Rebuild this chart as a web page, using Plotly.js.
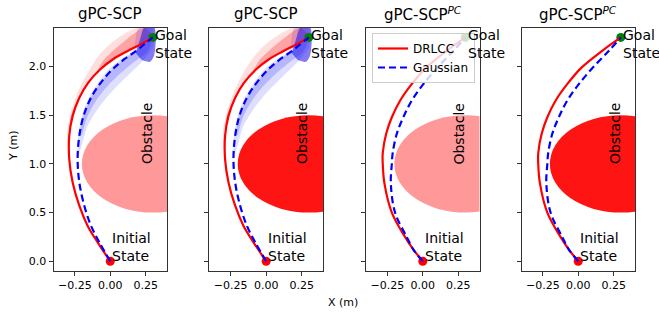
<!DOCTYPE html>
<html>
<head>
<meta charset="utf-8">
<script src="https://cdn.plot.ly/plotly-3.0.1.min.js"></script>
<style>html,body{margin:0;padding:0;background:#fff;}#chart{width:659px;height:312px;}</style>
</head>
<body>
<div id="chart"></div>
<script>
// ---------- data ----------
const panelTitles = ["gPC-SCP", "gPC-SCP", "gPC-SCP<sup><i>PC</i></sup>", "gPC-SCP<sup><i>PC</i></sup>"];
const seriesNames = ["DRLCC", "Gaussian"];
const xTickVals = [-0.25, 0.0, 0.25];
const yTickVals = [0.0, 0.5, 1.0, 1.5, 2.0];

// gPC-SCP mean trajectories (panels 1, 2)
const scpY      = [0, 0.195, 0.366, 0.571, 0.81, 1.05, 1.29, 1.494, 1.68, 1.836, 1.973, 2.076, 2.16, 2.23, 2.3];
const scpRedX   = [0, -0.089, -0.16, -0.218, -0.265, -0.289, -0.289, -0.265, -0.218, -0.155, -0.07, 0.02, 0.122, 0.216, 0.3];
const scpBlueX  = [0, -0.077, -0.136, -0.183, -0.218, -0.23, -0.218, -0.188, -0.136, -0.066, 0.016, 0.099, 0.181, 0.24, 0.3];

// gPC-SCP^PC mean trajectories (panels 3, 4)
const pcY       = [0, 0.12, 0.25, 0.5, 0.8, 1.0, 1.11, 1.31, 1.48, 1.65, 1.82, 1.99, 2.163, 2.3];
const pcRedX    = [0, -0.066, -0.125, -0.218, -0.27, -0.282, -0.282, -0.258, -0.218, -0.16, -0.078, 0.023, 0.169, 0.3];
const pcBlueX   = [0, -0.066, -0.113, -0.195, -0.225, -0.218, -0.212, -0.183, -0.137, -0.078, 0.004, 0.103, 0.216, 0.3];

// sampled-trajectory spread (panels 1, 2): faint outer envelopes and denser inner envelopes
const redOuterX = [-0.289, -0.305, -0.284, -0.23, -0.171, -0.10, -0.019, 0.075, 0.19, 0.29, 0.3, 0.216, 0.122, 0.02, -0.07, -0.155, -0.218, -0.265, -0.289];
const redOuterY = [1.05, 1.29, 1.494, 1.733, 1.905, 2.076, 2.21, 2.315, 2.40, 2.40, 2.3, 2.23, 2.16, 2.076, 1.973, 1.836, 1.68, 1.494, 1.29];
const redInnerX = [-0.289, -0.277, -0.195, -0.113, -0.042, 0.146, 0.24, 0.3, 0.216, 0.122, 0.02, -0.07, -0.155, -0.218, -0.265];
const redInnerY = [1.29, 1.494, 1.733, 1.905, 2.076, 2.315, 2.40, 2.3, 2.23, 2.16, 2.076, 1.973, 1.836, 1.68, 1.494];
const blueBandX = [-0.23, -0.225, -0.2, -0.15, -0.085, -0.01, 0.075, 0.16, 0.2, 0.31, 0.31, 0.305, 0.24, 0.122, 0.005, -0.089, -0.16, -0.195];
const blueBandY = [1.05, 1.29, 1.494, 1.68, 1.836, 1.973, 2.076, 2.16, 2.40, 2.40, 2.315, 2.21, 2.076, 1.905, 1.733, 1.562, 1.39, 1.22];
const blueInnerX = [-0.218, -0.188, -0.136, -0.066, 0.016, 0.099, 0.181, 0.24, 0.3, 0.26, 0.17, 0.07, -0.02, -0.1, -0.16, -0.2];
const blueInnerY = [1.29, 1.494, 1.68, 1.836, 1.973, 2.076, 2.16, 2.23, 2.3, 2.15, 2.05, 1.93, 1.8, 1.65, 1.49, 1.3];
const blueCoreX = [0.18, 0.21, 0.24, 0.31, 0.31, 0.28, 0.22];
const blueCoreY = [2.14, 2.28, 2.40, 2.40, 2.12, 2.05, 2.07];

const startPt = [0.0, 0.0];
const goalPt  = [0.3, 2.3];
const obstacle = {cx: 0.3, cy: 1.0, r: 0.5};

// ---------- layout helpers ----------
const W = 659, H = 312;
const xDomPx = [[53.5, 167], [209.3, 323], [366, 479.5], [521.5, 635]];
const yDom = [1 - 271 / H, 1 - 27.7 / H];
const obstacleColors = ["#ff9999", "#ff1414", "#ff9999", "#ff1414"];
const FONT = "DejaVu Sans, Liberation Sans, sans-serif";

const traces = [];
const layout = {
  width: W, height: H,
  margin: {l: 0, r: 0, t: 0, b: 0},
  paper_bgcolor: "#fff", plot_bgcolor: "#fff",
  font: {family: FONT, color: "#000", size: 11},
  showlegend: true,
  legend: {
    x: 372 / W, y: 1 - 33 / H, xanchor: "left", yanchor: "top",
    bgcolor: "rgba(255,255,255,0.8)", bordercolor: "#cccccc", borderwidth: 1,
    font: {family: FONT, size: 12, color: "#000"},
    tracegroupgap: 0, entrywidth: 60, entrywidthmode: "pixels"
  },
  shapes: [], annotations: []
};

function band(x, y, xa, ya, color) {
  return {x: x, y: y, xaxis: xa, yaxis: ya, mode: "lines", fill: "toself",
    fillcolor: color, line: {width: 0, shape: "spline", smoothing: 0.8},
    showlegend: false, hoverinfo: "skip"};
}

for (let i = 0; i < 4; i++) {
  const n = i + 1;
  const xa = n === 1 ? "x" : "x" + n;
  const ya = n === 1 ? "y" : "y" + n;
  const xKey = n === 1 ? "xaxis" : "xaxis" + n;
  const yKey = n === 1 ? "yaxis" : "yaxis" + n;
  const isPC = i >= 2;
  const yy = isPC ? pcY : scpY;
  const rx = isPC ? pcRedX : scpRedX;
  const bx = isPC ? pcBlueX : scpBlueX;

  layout[xKey] = {
    domain: [xDomPx[i][0] / W, xDomPx[i][1] / W], anchor: ya,
    range: [-0.4, 0.4], tickvals: xTickVals, tickformat: ".2f",
    ticks: "outside", ticklen: 4, tickwidth: 1, tickcolor: "#333",
    showline: true, mirror: true, linecolor: "#333", linewidth: 1,
    showgrid: false, zeroline: false, fixedrange: true,
    tickfont: {family: FONT, size: 11, color: "#000"}
  };
  layout[yKey] = {
    domain: yDom, anchor: xa,
    range: [-0.1, 2.4], tickvals: yTickVals, tickformat: ".1f",
    showticklabels: n === 1,
    ticks: "outside", ticklen: 4, tickwidth: 1, tickcolor: "#333",
    showline: true, mirror: true, linecolor: "#333", linewidth: 1,
    showgrid: false, zeroline: false, fixedrange: true,
    tickfont: {family: FONT, size: 11, color: "#000"}
  };

  layout.shapes.push({
    type: "circle", xref: xa, yref: ya, layer: "below",
    x0: obstacle.cx - obstacle.r, x1: obstacle.cx + obstacle.r,
    y0: obstacle.cy - obstacle.r, y1: obstacle.cy + obstacle.r,
    fillcolor: obstacleColors[i], line: {width: 0}
  });

  if (!isPC) {
    traces.push(band(redOuterX, redOuterY, xa, ya, "rgba(255,0,0,0.13)"));
    traces.push(band(redInnerX, redInnerY, xa, ya, "rgba(255,0,0,0.26)"));
    traces.push(band(blueBandX, blueBandY, xa, ya, "rgba(0,0,255,0.13)"));
    traces.push(band(blueInnerX, blueInnerY, xa, ya, "rgba(0,0,255,0.18)"));
    traces.push(band(blueCoreX, blueCoreY, xa, ya, "rgba(25,15,235,0.55)"));
  }

  traces.push({x: [startPt[0]], y: [startPt[1]], xaxis: xa, yaxis: ya, mode: "markers",
    marker: {color: "#ff0000", size: 9}, showlegend: false, hoverinfo: "skip"});
  traces.push({x: [goalPt[0]], y: [goalPt[1]], xaxis: xa, yaxis: ya, mode: "markers",
    marker: {color: "#008000", size: 9}, showlegend: false, hoverinfo: "skip"});

  traces.push({x: rx, y: yy, xaxis: xa, yaxis: ya, mode: "lines", name: seriesNames[0],
    line: {color: "#ff0000", width: 2.2, shape: "spline", smoothing: 1}, showlegend: n === 3});
  traces.push({x: bx, y: yy, xaxis: xa, yaxis: ya, mode: "lines", name: seriesNames[1],
    line: {color: "#0000ff", width: 2.2, dash: "7px,4px", shape: "spline", smoothing: 1}, showlegend: n === 3});

  // titles
  layout.annotations.push({
    text: panelTitles[i], xref: "paper", yref: "paper",
    x: (xDomPx[i][0] + xDomPx[i][1]) / 2 / W, y: 1 - 14 / H,
    xanchor: "center", yanchor: "middle", showarrow: false,
    font: {family: FONT, size: 15, color: "#000"}
  });
  // labels in panel
  layout.annotations.push({
    text: "Goal<br>State", xref: xa, yref: ya, x: 0.303, y: 2.23,
    xanchor: "left", yanchor: "middle", align: "left", showarrow: false,
    font: {family: FONT, size: 14, color: "#000"}
  });
  layout.annotations.push({
    text: "Initial<br>State", xref: xa, yref: ya, x: 0.0, y: 0.0,
    xanchor: "left", yanchor: "bottom", align: "left", showarrow: false, yshift: -5,
    font: {family: FONT, size: 14, color: "#000"}
  });
  layout.annotations.push({
    text: "Obstacle", xref: xa, yref: ya, x: 0.254, y: 1.31, textangle: -90,
    xanchor: "center", yanchor: "middle", showarrow: false,
    font: {family: FONT, size: 14, color: "#000"}
  });
}

layout.annotations.push({
  text: "X (m)", xref: "paper", yref: "paper", x: 343 / W, y: 1 - 302 / H,
  xanchor: "center", yanchor: "middle", showarrow: false,
  font: {family: FONT, size: 11, color: "#000"}
});
layout.annotations.push({
  text: "Y (m)", xref: "paper", yref: "paper", x: 13 / W, y: 1 - 146 / H, textangle: -90,
  xanchor: "center", yanchor: "middle", showarrow: false,
  font: {family: FONT, size: 11, color: "#000"}
});

Plotly.newPlot("chart", traces, layout, {staticPlot: true, displayModeBar: false});
</script>
</body>
</html>
